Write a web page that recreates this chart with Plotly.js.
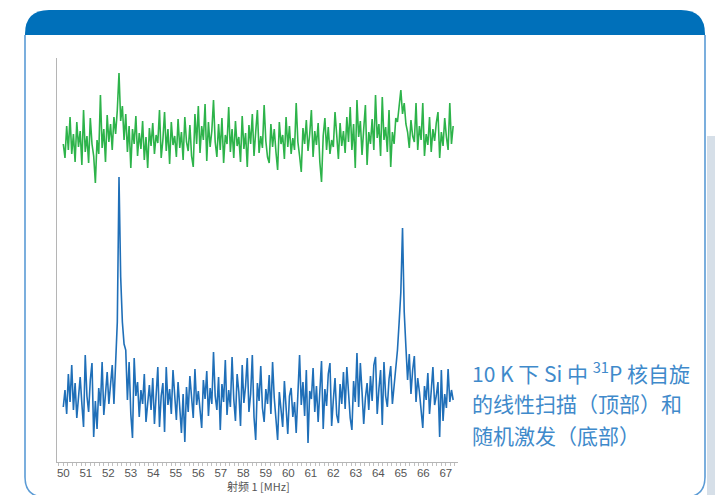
<!DOCTYPE html>
<html>
<head>
<meta charset="utf-8">
<script src="https://cdn.plot.ly/plotly-3.0.1.min.js"></script>
<style>html,body{margin:0;padding:0;background:#fff;}#chart{width:715px;height:495px;}</style>
</head>
<body>
<div id="chart"></div>
<script>
// Frequency sampling grid (MHz)
const freqStart = 50.0;
const freqStep = 0.075;

// Top trace: linear sweep (arbitrary units)
const sweepSignal = [
318,304,336,312,345,308,328,300,340,315,
331,297,352,310,326,299,344,318,306,279,
322,308,367,314,333,300,347,320,338,312,
345,328,352,389,341,356,322,348,310,336,
294,333,318,346,306,329,313,341,302,325,
294,334,316,339,308,327,319,352,304,322,
350,311,333,298,340,317,326,305,343,314,
330,302,345,320,311,337,306,295,348,318,
356,309,336,322,358,301,340,315,331,362,
320,305,338,312,344,299,327,318,355,310,
333,304,341,316,325,300,346,313,329,295,
337,318,348,306,330,352,309,326,314,357,
321,305,299,338,315,333,310,292,340,318,
327,303,345,315,336,308,324,312,359,320,
306,290,334,318,342,311,328,352,305,331,
317,339,300,280,326,344,312,335,308,322,
315,350,327,303,339,316,331,309,345,320,
355,312,338,294,362,325,341,307,333,357,
297,330,318,343,312,367,324,338,306,365,
322,335,310,352,295,330,318,344,340,355,
372,348,359,338,330,314,342,326,320,359,
312,336,322,359,306,328,317,345,310,333,
321,339,350,304,330,316,344,325,312,359,
318,336
];

// Bottom trace: random excitation (arbitrary units)
const randomSignal = [
55,72,48,88,60,97,52,79,44,70,
85,58,35,107,66,50,82,99,25,61,
33,74,56,100,47,68,90,58,76,97,
58,100,140,285,185,140,118,112,62,100,
48,24,104,66,80,45,72,58,88,40,
63,77,52,84,38,70,95,35,66,79,
30,95,57,73,48,92,61,42,80,55,
29,68,20,75,50,86,62,44,93,57,
71,49,34,82,63,91,46,74,58,110,
66,52,85,32,78,60,102,47,72,55,
105,63,41,88,70,36,97,59,76,104,
50,68,107,45,22,79,61,96,54,40,
73,58,87,48,100,64,43,22,70,52,
35,81,56,28,66,74,45,60,29,69,
107,57,80,46,92,19,71,63,94,50,
76,40,66,101,33,73,56,88,99,36,
62,84,47,39,78,58,90,53,95,68,
44,32,81,60,109,55,99,70,38,64,
79,52,86,61,97,105,48,73,92,37,
100,66,55,83,96,58,77,95,112,140,
170,234,150,115,82,108,68,92,106,60,
84,70,53,34,76,62,89,48,71,95,
57,66,80,25,92,41,68,54,93,60,
72,62
];

const xTitle = "射频 1 [MHz]";
const captionLines = ["10 K 下 Si 中 <sup>31</sup>P 核自旋", "的线性扫描（顶部）和", "随机激发（底部）"];

const W = 715, H = 495;
const freq = sweepSignal.map((_, i) => +(freqStart + freqStep * i).toFixed(3));
const px = x => x / W;
const py = y => 1 - y / H;

const traces = [
  {x: freq, y: sweepSignal, type: 'scatter', mode: 'lines',
   line: {color: '#2db34a', width: 1.6}, hoverinfo: 'skip'},
  {x: freq, y: randomSignal, type: 'scatter', mode: 'lines',
   line: {color: '#1f6fb8', width: 1.6}, hoverinfo: 'skip'}
];

const r = 24;
const headerPath = 'M ' + px(25) + ',' + py(35) +
  ' L ' + px(25) + ',' + py(10 + r) +
  ' Q ' + px(25) + ',' + py(10) + ' ' + px(25 + r) + ',' + py(10) +
  ' L ' + px(705 - r) + ',' + py(10) +
  ' Q ' + px(705) + ',' + py(10) + ' ' + px(705) + ',' + py(10 + r) +
  ' L ' + px(705) + ',' + py(35) + ' Z';
const rb = 20;
const borderPath = 'M ' + px(25) + ',' + py(35) +
  ' L ' + px(25) + ',' + py(497 - rb) +
  ' Q ' + px(25) + ',' + py(497) + ' ' + px(25 + rb) + ',' + py(497) +
  ' L ' + px(705 - rb) + ',' + py(497) +
  ' Q ' + px(705) + ',' + py(497) + ' ' + px(705) + ',' + py(497 - rb) +
  ' L ' + px(705) + ',' + py(35);

const shapes = [
  {type: 'rect', xref: 'paper', yref: 'paper', x0: px(707), x1: px(716), y0: py(136), y1: py(496),
   fillcolor: '#d6dfe8', line: {width: 0}, layer: 'below'},
  {type: 'path', xref: 'paper', yref: 'paper', path: borderPath,
   line: {color: '#5b9bd5', width: 1.6}, layer: 'below'},
  {type: 'path', xref: 'paper', yref: 'paper', path: headerPath,
   fillcolor: '#0070ba', line: {width: 0}, layer: 'below'}
];

const lineY = [372, 403, 435];
const annotations = captionLines.map((t, k) => ({
  xref: 'paper', yref: 'paper', x: px(470), y: py(lineY[k]),
  xanchor: 'left', yanchor: 'middle', showarrow: false, text: t,
  font: {family: '"Noto Sans CJK SC", "Noto Sans", sans-serif', size: 21, color: '#3f8acb'}
}));
annotations.push({
  xref: 'paper', yref: 'paper', x: px(258), y: 0,
  xanchor: 'center', yanchor: 'bottom', showarrow: false, text: xTitle, borderpad: 0,
  font: {family: '"Noto Sans CJK SC", "Liberation Sans", sans-serif', size: 11, color: '#555'}
});

const layout = {
  width: W, height: H,
  margin: {l: 0, r: 0, t: 0, b: 0},
  paper_bgcolor: 'rgba(0,0,0,0)', plot_bgcolor: 'rgba(0,0,0,0)',
  showlegend: false,
  font: {family: '"Liberation Sans", Arial, sans-serif', color: '#555'},
  xaxis: {
    domain: [57 / W, 458 / W], range: [49.72, 67.54],
    showline: true, linecolor: '#b5b5b5', linewidth: 1,
    showgrid: false, zeroline: false,
    ticks: 'inside', ticklen: 0, tickcolor: '#b5b5b5', dtick: 1, tick0: 50,
    minor: {dtick: 0.2, ticks: 'outside', ticklen: 3, tickcolor: '#c0c0c0', showgrid: false},
    tickfont: {size: 11.5, color: '#555'}
  },
  yaxis: {
    domain: [1 - 462 / H, 1 - 58 / H], range: [0, 404],
    showline: true, linecolor: '#b5b5b5', linewidth: 1,
    showgrid: false, zeroline: false, showticklabels: false, ticks: ''
  },
  shapes: shapes,
  annotations: annotations
};

Plotly.newPlot('chart', traces, layout, {displayModeBar: false, staticPlot: true});
</script>
</body>
</html>
